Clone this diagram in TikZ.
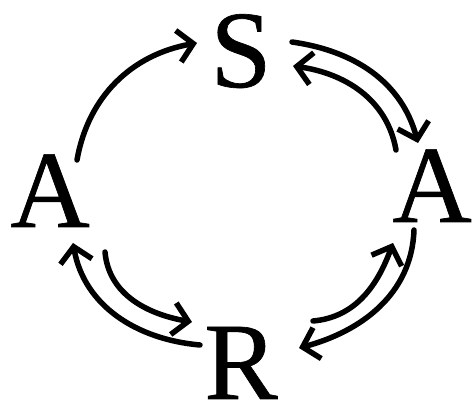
\documentclass[tikz,border=0pt]{standalone}
\usepackage{fontspec}
\newfontfamily\letterfont[FakeBold=0.6]{Liberation Serif}
\usetikzlibrary{arrows.meta}

\begin{document}
\begin{tikzpicture}[x=1pt,y=1pt,>={Straight Barb[length=15pt,width=32pt]},
  letter/.style={anchor=base,inner sep=0pt,font=\letterfont\fontsize{110}{110}\selectfont},
  link/.style={->,line width=5.5pt,line cap=round}]
  \useasboundingbox (0,0) rectangle (475,407);
  \node[letter] (s)  at (241,320) {S};
  \node[letter] (al) at (50,180)  {A};
  \node[letter] (ar) at (432,185) {A};
  \node[letter] (r)  at (241,8)   {R};
  % top left
  \draw[link] ([shift={(27,67)}]al.base) to[out=80,in=190] ([shift={(-44,44)}]s.base);
  % top right
  \draw[link] ([shift={(51,45)}]s.base) to[out=-8,in=105] ([shift={(-14,79)}]ar.base);
  \draw[link] ([shift={(-36,72)}]ar.base) to[out=100,in=-8] ([shift={(52,21)}]s.base);
  % bottom right
  \draw[link] ([shift={(-18,-8)}]ar.base) to[out=-92,in=15] ([shift={(58,51)}]r.base);
  \draw[link] ([shift={(72,78)}]r.base) to[out=5,in=-110] ([shift={(-39,-21)}]ar.base);
  % bottom left
  \draw[link] ([shift={(55,-25)}]al.base) to[out=-85,in=170] ([shift={(-49,77)}]r.base);
  \draw[link] ([shift={(-41,54)}]r.base) to[out=175,in=-80] ([shift={(23,-16)}]al.base);
\end{tikzpicture}
\end{document}
